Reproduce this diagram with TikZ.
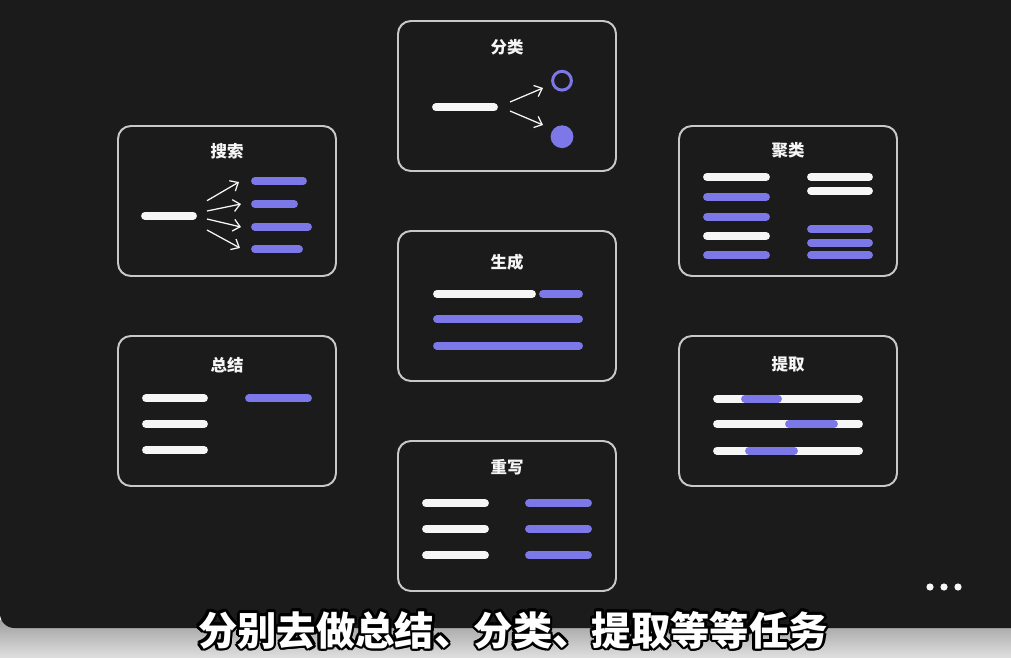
\documentclass[tikz,border=0pt]{standalone}
\usepackage{fontspec}
\newfontfamily\cjk{Noto Sans CJK SC}
\usetikzlibrary{arrows.meta}
\definecolor{cBG}    {RGB}{ 27, 27, 27}
\definecolor{cEdge}  {RGB}{200,200,200}
\definecolor{cPurple}{RGB}{124,120,232}
\definecolor{cWhite} {RGB}{246,246,246}
\definecolor{cShadeA}{RGB}{160,160,160}
\definecolor{cShadeB}{RGB}{222,222,222}
\tikzset{
  card/.style      = {draw=cEdge, fill=cBG, line width=1.4pt, rounded corners=3.2mm},
  cardtitle/.style = {font=\cjk\bfseries\fontsize{11.7}{13}\selectfont,
                      text=cWhite, inner sep=0pt},
  wbar/.style      = {draw=cWhite, line width=5.6pt, line cap=round},
  pbar/.style      = {draw=cPurple, line width=5.6pt, line cap=round},
  pick/.style      = {-{Straight Barb[length=1.7mm,width=3.0mm]}, cWhite,
                      line width=0.9pt},
  caption/.style   = {font=\cjk\bfseries\fontsize{28}{30}\selectfont, inner sep=0pt},
}
% #1 name, #2 left, #3 top, #4 title y, #5 title
\newcommand{\taskcard}[5]{%
  \draw[card] (#2,#3) rectangle ++(218,150);
  \node[cardtitle] (#1) at (#2+109,#4) {#5};}
% #1 style, #2 from x, #3 to x, #4 y
\newcommand{\taskbar}[4]{\draw[#1] (#2,#4) -- (#3,#4);}

\begin{document}
\begin{tikzpicture}[x=0.025cm,y=-0.025cm]
  \useasboundingbox (0,0) rectangle (1011,657);

  %% ---------------- backdrop ----------------------------------------
  \shade[top color=cShadeA, bottom color=cShadeB] (0,620) rectangle (1011,657);
  \fill[cBG, rounded corners=3.6mm] (0,-40) rectangle (1060,628);

  %% ---------------- search ------------------------------------------
  \taskcard{search}{118}{126}{151}{搜索}
  \taskbar{wbar}{145}{193}{215.7}
  \taskbar{pbar}{255}{303}{181}
  \taskbar{pbar}{255}{294}{204}
  \taskbar{pbar}{255}{308}{226.7}
  \taskbar{pbar}{255}{299}{249.3}
  \foreach \i/\ya/\xb/\yb in {1/200.7/239/182, 2/211/241/204,
                              3/219/241/227, 4/230/240/248}{
    \coordinate (sfrom\i) at (207,\ya);
    \coordinate (sto\i) at (\xb,\yb);
    \draw[pick] (sfrom\i) -- (sto\i);
  }

  %% ---------------- classify ----------------------------------------
  \taskcard{classify}{398}{21}{47.3}{分类}
  \taskbar{wbar}{436}{494}{107.3}
  \coordinate (cfrom1) at (510,102);
  \coordinate (cto1)   at (543,88);
  \coordinate (cfrom2) at (510,111);
  \coordinate (cto2)   at (543,125);
  \draw[pick] (cfrom1) -- (cto1);
  \draw[pick] (cfrom2) -- (cto2);
  \draw[cPurple, line width=2.1pt] (562,80.7) circle[radius=2.35mm];
  \fill[cPurple] (562,136.7) circle[radius=2.85mm];

  %% ---------------- cluster -----------------------------------------
  \taskcard{cluster}{679}{126}{150}{聚类}
  \taskbar{wbar}{707}{766}{177}
  \taskbar{pbar}{707}{766}{197}
  \taskbar{pbar}{707}{766}{216.7}
  \taskbar{wbar}{707}{766}{236}
  \taskbar{pbar}{707}{766}{255.3}
  \taskbar{wbar}{811}{869}{177}
  \taskbar{wbar}{811}{869}{190.7}
  \taskbar{pbar}{811}{869}{229.3}
  \taskbar{pbar}{811}{869}{242.7}
  \taskbar{pbar}{811}{869}{255.3}

  %% ---------------- generate ----------------------------------------
  \taskcard{generate}{398}{231}{262.7}{生成}
  \taskbar{wbar}{437}{532}{294}
  \taskbar{pbar}{543}{579}{294}
  \taskbar{pbar}{437}{579}{319.3}
  \taskbar{pbar}{437}{579}{345.7}

  %% ---------------- summary -----------------------------------------
  \taskcard{summary}{118}{336}{365}{总结}
  \taskbar{wbar}{146}{204}{398.3}
  \taskbar{wbar}{146}{204}{424}
  \taskbar{wbar}{146}{204}{450}
  \taskbar{pbar}{249}{308}{398.3}

  %% ---------------- extract -----------------------------------------
  \taskcard{extract}{679}{336}{364.3}{提取}
  \taskbar{wbar}{717}{859}{398.7}
  \taskbar{wbar}{717}{859}{424}
  \taskbar{wbar}{717}{859}{450.7}
  \taskbar{pbar}{745}{778}{398.7}
  \taskbar{pbar}{789}{834}{424}
  \taskbar{pbar}{749}{794}{450.7}

  %% ---------------- rewrite -----------------------------------------
  \taskcard{rewrite}{398}{441}{467.3}{重写}
  \foreach \y in {503.3,528.7,555.3}{
    \taskbar{wbar}{426}{485}{\y}
    \taskbar{pbar}{529}{588}{\y}
  }

  %% ---------------- menu dots + subtitle ----------------------------
  \foreach \x in {930,944,958}
    \fill[cWhite] (\x,587) circle[radius=0.9mm];

  % black rim: the caption stamped round its centre, then white on top
  \foreach \a in {0,30,...,330}
    \node[caption, text=black] (capline\a) at ({513+2.6*cos(\a)},{630+2.6*sin(\a)})
      {分别去做总结、分类、提取等等任务};
  \node[caption, text=white] (caption) at (513,630) {分别去做总结、分类、提取等等任务};
\end{tikzpicture}
\end{document}
